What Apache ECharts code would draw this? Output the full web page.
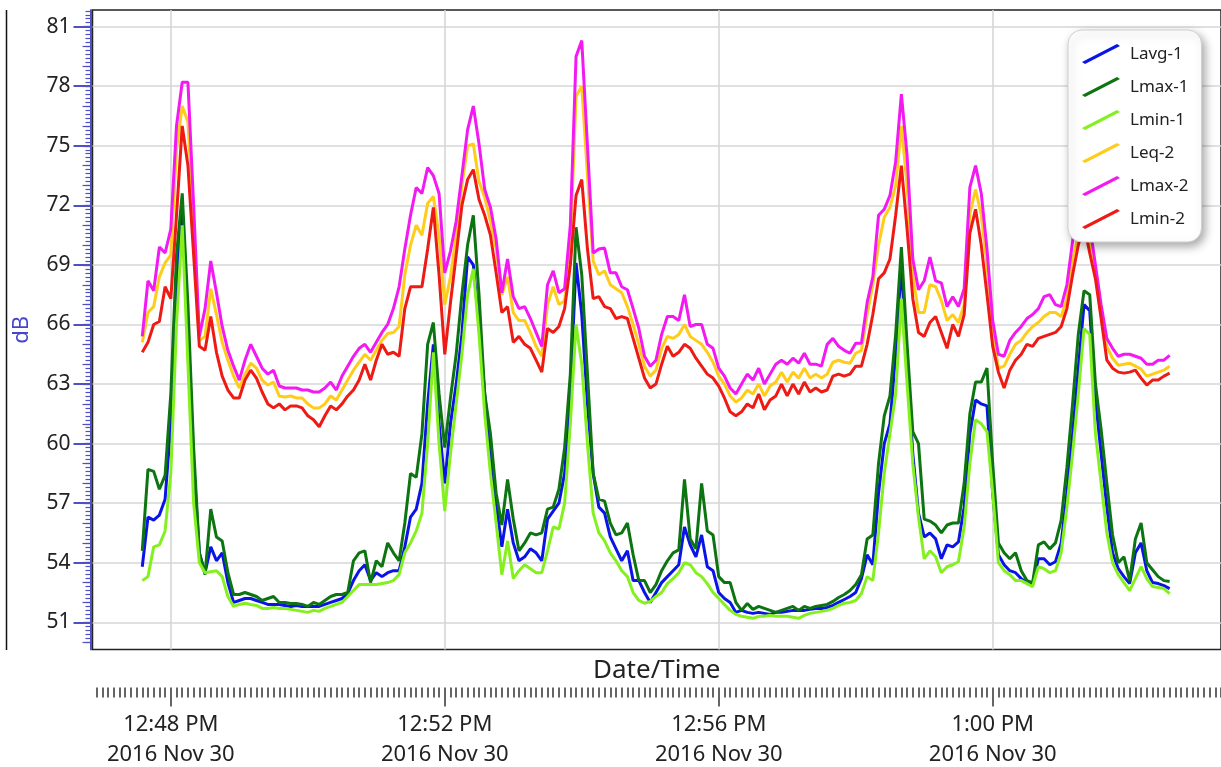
<!DOCTYPE html>
<html>
<head>
<meta charset="utf-8">
<title>Sound level – dB over time</title>
<script src="https://cdn.jsdelivr.net/npm/echarts@6/dist/echarts.min.js"></script>
<style>
  html, body { margin: 0; padding: 0; background: #ffffff; }
  #chart { width: 1221px; height: 767px; }
</style>
</head>
<body>
<div id="chart"></div>
<script>
// ---- series names and colours ----
const seriesNames  = ['Lavg-1', 'Lmax-1', 'Lmin-1', 'Leq-2', 'Lmax-2', 'Lmin-2'];
const seriesColors = ['#0a14e6', '#0c7410', '#84f01e', '#ffcc1a', '#f219f2', '#ee1a14'];

// ---- sampling: one reading every 5 s, first at 12:47:35 PM (seconds after 12:00 PM) ----
const sampleStartSec = 2855;
const sampleStepSec  = 5;

// ---- readings (dB) ----
const lavg1 = [
  53.8, 56.3, 56.15, 56.4, 57.2, 61.0, 68.0, 71.8, 66.0, 59.0,
  54.5, 53.5, 54.8, 54.1, 54.5, 53.0, 52.0, 52.1, 52.2, 52.2,
  52.1, 52.0, 51.9, 51.9, 51.9, 51.85, 51.8, 51.85, 51.8, 51.8,
  51.8, 51.8, 51.9, 52.0, 52.1, 52.2, 52.45, 53.1, 53.6, 53.9,
  53.1, 53.5, 53.3, 53.5, 53.6, 53.6, 54.8, 56.3, 56.7, 58.0,
  62.0, 65.0, 61.0, 58.0, 61.0, 63.0, 65.5, 69.4, 69.0, 66.0,
  62.5, 59.5, 57.0, 54.8, 56.7, 55.0, 54.1, 54.3, 54.7, 54.5,
  54.1, 56.2, 56.6, 57.0, 58.5, 62.5, 69.1, 66.5, 62.0, 58.5,
  56.8, 56.5, 55.3, 54.7, 54.1, 54.6, 53.1, 53.1, 52.5, 52.0,
  52.5, 53.0, 53.3, 53.6, 53.9, 55.8, 54.9, 54.3, 55.4, 53.8,
  53.6, 52.5, 52.2, 52.0, 51.5, 51.6, 51.5, 51.45, 51.5, 51.45,
  51.4, 51.5, 51.5, 51.55, 51.6, 51.6, 51.6, 51.65, 51.7, 51.7,
  51.75, 51.85, 52.0, 52.15, 52.3, 52.5, 53.2, 54.4, 53.9, 57.5,
  60.0, 61.0, 64.5, 69.0, 64.0, 59.5, 56.5, 55.3, 55.5, 55.2,
  54.2, 54.9, 54.8, 55.05, 56.8, 60.5, 62.2, 62.0, 61.9, 57.5,
  54.4, 53.9, 53.6, 53.5, 53.2, 53.0, 52.9, 54.2, 54.2, 53.9,
  54.05, 55.0, 57.5, 60.5, 63.8, 67.0, 66.7, 62.2, 59.5, 56.8,
  54.5, 53.7, 53.3, 52.95, 54.5, 55.0, 53.6, 53.0, 52.95, 52.85, 52.7
];
const lmax1 = [
  54.6, 58.7, 58.6, 57.7, 58.4, 62.5, 69.5, 72.6, 67.0, 59.8,
  54.5, 53.4, 56.7, 55.3, 55.1, 53.5, 52.4, 52.4, 52.5, 52.4,
  52.3, 52.1, 52.2, 52.3, 52.0, 52.0, 51.95, 51.95, 51.9, 51.8,
  52.0, 51.9, 52.1, 52.3, 52.4, 52.4, 52.5, 54.1, 54.5, 54.6,
  53.0, 54.1, 53.8, 55.0, 54.5, 54.1, 56.0, 58.5, 58.3, 60.5,
  65.0, 66.1, 62.5, 59.8, 62.3, 64.5, 67.5, 70.0, 71.5, 67.5,
  62.5, 60.5, 57.5, 55.9, 58.2, 56.2, 54.6, 55.0, 55.5, 55.4,
  55.5, 56.7, 56.8, 57.7, 59.8, 63.5, 70.9, 68.5, 63.5, 58.5,
  57.2, 57.1, 56.0, 55.4, 55.5, 56.0, 54.4, 53.1, 53.1, 52.5,
  52.9, 53.6, 54.1, 54.5, 54.65, 58.2, 55.2, 54.7, 58.0, 55.6,
  55.4, 53.3, 53.0, 53.0, 52.0, 51.6, 51.95, 51.65, 51.8, 51.7,
  51.6, 51.5, 51.6, 51.7, 51.8, 51.6, 51.8, 51.7, 51.8, 51.85,
  51.9, 52.05, 52.25, 52.4, 52.6, 52.9, 53.4, 55.2, 55.4, 59.0,
  61.4, 62.4, 65.5, 69.9, 65.0, 60.6, 60.0, 56.2, 56.1, 55.9,
  55.5, 55.9, 56.0, 56.0, 58.0, 61.5, 63.1, 63.1, 63.8, 59.0,
  55.0, 54.5, 54.2, 54.5, 53.6, 53.1, 53.0, 54.9, 55.05, 54.7,
  55.0, 56.15, 58.8, 62.0, 65.5, 67.7, 67.5, 63.0, 60.7, 58.0,
  55.4, 54.0, 54.3, 53.1, 55.2, 56.0, 54.0, 53.65, 53.3, 53.1, 53.05
];
const lmin1 = [
  53.1, 53.3, 54.8, 54.9, 55.6, 58.5, 66.0, 71.0, 64.0, 57.0,
  54.0, 53.5, 53.55, 53.6, 53.3, 52.3, 51.8, 51.9, 51.96, 51.9,
  51.85, 51.7, 51.7, 51.75, 51.7, 51.7, 51.65, 51.6, 51.55, 51.5,
  51.6, 51.55, 51.7, 51.8, 51.9, 52.0, 52.3, 52.6, 52.9, 52.9,
  52.9, 52.9, 52.95, 53.0, 53.1, 53.4, 54.5, 55.0, 55.6, 56.5,
  60.0, 64.6, 60.0, 56.6, 59.5, 62.0, 64.5, 67.5, 68.8, 65.5,
  61.5, 58.5, 56.0, 53.4, 55.1, 53.2, 53.6, 53.9, 53.7, 53.5,
  53.5, 54.6, 55.8, 55.7, 57.0, 61.0, 66.0, 64.0, 60.0, 56.5,
  55.5, 55.1, 54.5, 54.1, 53.6, 53.3, 52.5, 52.1, 51.96, 52.05,
  52.3, 52.5, 52.95, 53.2, 53.5, 54.0, 53.9, 53.5, 53.3, 52.95,
  52.5, 52.2, 51.9, 51.6, 51.4, 51.3, 51.25, 51.2, 51.3, 51.3,
  51.35, 51.3, 51.3, 51.3, 51.25, 51.2, 51.35, 51.45, 51.5, 51.55,
  51.6, 51.7, 51.85, 51.96, 52.0, 52.1, 52.45, 53.3, 53.1, 55.5,
  58.5, 60.5, 62.5, 67.3, 63.0, 59.0, 56.3, 54.2, 54.6, 54.3,
  53.5, 53.8, 53.9, 54.05, 55.8, 59.0, 61.2, 61.0, 60.6, 57.5,
  54.0, 53.6, 53.4, 53.1, 53.1, 52.95, 52.8, 53.8, 53.7, 53.5,
  53.6, 54.5, 56.8, 59.5, 62.5, 65.8, 65.5, 60.5, 58.0, 55.5,
  54.0, 53.4, 53.0, 52.6, 53.2, 53.8, 53.2, 52.8, 52.75, 52.7, 52.45
];
const leq2 = [
  65.1, 66.6, 66.9, 68.4, 69.1, 69.5, 74.8, 77.0, 76.2, 71.0,
  65.2, 65.4, 67.8, 66.5, 65.1, 64.2, 63.4, 62.8, 63.5, 64.05,
  63.8, 63.2, 62.95, 63.1, 62.4, 62.35, 62.4, 62.3, 62.3, 62.0,
  61.8, 61.8, 62.0, 62.4, 62.2, 62.7, 63.2, 63.7, 64.1, 64.5,
  64.2, 64.7, 65.2, 65.55, 65.6, 65.9, 68.5, 70.0, 71.0, 70.5,
  72.1, 72.45, 70.5, 67.0, 68.4, 70.5, 73.0, 75.0, 75.1, 73.2,
  72.4, 71.2, 69.8, 67.5, 68.4, 66.6, 66.2, 66.2, 65.6, 64.9,
  64.4, 67.0, 67.9, 67.0, 67.2, 70.0, 77.5, 78.0, 73.5, 69.2,
  68.5, 68.7, 68.0, 67.8, 67.6, 66.9, 66.0, 65.0, 63.9, 63.4,
  63.7, 64.8, 65.4, 65.3, 65.5, 66.0, 65.4, 65.2, 65.0, 64.6,
  64.1, 63.4, 63.0, 62.4, 62.1, 62.3, 62.7, 62.5, 63.0, 62.4,
  62.9, 63.1, 63.6, 63.1, 63.6, 63.3, 63.8, 63.3, 63.5, 63.3,
  63.5, 64.1, 64.2, 64.1, 64.05, 64.55, 64.7, 66.5, 68.0, 70.0,
  71.4, 71.9, 73.0, 76.0, 73.0, 68.5, 66.6, 66.6, 68.0, 67.9,
  67.2, 66.2, 66.5, 66.1, 67.0, 71.6, 72.8, 71.5, 69.0, 65.6,
  63.8, 63.9, 64.5, 65.0, 65.2, 65.6, 65.9, 66.1, 66.4, 66.6,
  66.6, 66.4, 67.3, 69.3, 70.5, 71.8, 70.0, 68.6, 66.6, 64.9,
  64.3, 63.95, 64.0, 64.05, 63.9, 63.75, 63.4, 63.5, 63.6, 63.7, 63.9
];
const lmax2 = [
  65.4, 68.2, 67.7, 69.9, 69.6, 70.8, 76.0, 78.2, 78.2, 72.0,
  65.4, 66.8, 69.2, 67.6, 65.9, 64.7, 63.9, 63.2, 64.2, 65.0,
  64.4, 63.8, 63.5, 63.7, 62.9, 62.8, 62.8, 62.8, 62.7, 62.7,
  62.6, 62.6, 62.8, 63.1, 62.7, 63.4, 63.9, 64.4, 64.8, 65.0,
  64.6, 65.1, 65.6, 66.0, 66.8, 67.9, 69.8, 71.5, 72.9, 72.6,
  73.9, 73.5, 72.6, 68.6, 69.7, 71.2, 73.5, 75.8, 77.0, 75.1,
  72.8, 71.9, 70.3, 67.6, 69.3, 67.4, 66.8, 66.9, 66.3, 65.6,
  64.9, 68.0, 68.7, 67.6, 67.8, 71.0, 79.5, 80.3, 75.0, 69.6,
  69.8, 69.85, 68.6, 68.6, 67.9, 67.75, 66.8, 65.8, 64.4, 63.9,
  64.2, 65.5, 66.4, 66.4, 66.2, 67.5, 65.9, 66.0, 66.0, 65.0,
  64.8, 63.8, 63.4, 62.8, 62.5, 63.0, 63.5, 63.2, 63.8, 63.0,
  63.5, 64.0, 64.2, 64.0, 64.3, 64.05, 64.55, 64.0, 64.0, 63.9,
  65.0, 65.3, 64.9, 64.7, 64.55, 65.05, 65.05, 67.1, 68.4, 71.5,
  71.8, 72.5, 74.2, 77.6, 74.5, 69.3, 67.75, 68.2, 69.4, 68.2,
  68.1, 66.9, 67.4, 66.9, 67.8, 72.9, 74.0, 72.6, 69.8, 66.2,
  64.5, 64.4, 65.2, 65.6, 65.9, 66.3, 66.5, 66.8, 67.4, 67.5,
  67.0, 66.9, 68.0, 70.2, 72.5, 73.0, 71.0, 69.0, 67.0, 65.3,
  64.8, 64.4, 64.5, 64.5, 64.4, 64.3, 64.0, 64.0, 64.2, 64.2, 64.45
];
const lmin2 = [
  64.6, 65.1, 66.0, 66.15, 67.9, 67.3, 71.5, 76.0, 74.0, 69.5,
  64.9, 64.7, 66.4, 64.6, 63.4, 62.7, 62.3, 62.3, 63.2, 63.7,
  63.3, 62.6, 62.0, 61.8, 62.0, 61.7, 61.9, 61.9, 61.8, 61.4,
  61.2, 60.85, 61.4, 61.9, 61.7, 62.0, 62.4, 62.7, 63.2, 64.0,
  63.2, 64.2, 65.0, 64.5, 64.6, 64.4, 66.8, 67.9, 67.9, 67.9,
  69.8, 71.9, 68.5, 64.5, 67.1, 69.5, 72.0, 73.3, 73.8, 72.3,
  71.5, 70.5, 68.6, 66.6, 66.9, 65.1, 65.4, 65.0, 64.8, 64.2,
  63.6, 65.8, 65.6, 65.9, 66.8, 69.0, 72.5, 73.3, 69.8, 67.3,
  67.4, 66.9, 66.8, 66.3, 66.4, 66.3, 65.3, 64.3, 63.3, 62.8,
  63.0, 64.0, 64.9, 64.4, 64.6, 65.0, 64.8, 64.3, 63.9, 63.5,
  63.3, 62.9, 62.3, 61.6, 61.4, 61.6, 62.0, 61.8, 62.5, 61.7,
  62.2, 62.4, 63.0, 62.4, 63.0, 62.5, 63.1, 62.6, 62.8, 62.6,
  62.7, 63.4, 63.5, 63.4, 63.5, 63.9, 63.9, 65.0, 66.5, 68.3,
  68.6, 69.3, 71.5, 74.0, 70.8, 67.3, 65.6, 65.4, 66.1, 66.4,
  65.6, 64.8, 66.0, 65.4, 66.5, 70.6, 71.8, 70.0, 67.5, 64.9,
  63.6, 62.8, 63.7, 64.2, 64.5, 65.0, 64.9, 65.3, 65.4, 65.5,
  65.6, 65.9, 66.8, 68.5, 70.0, 71.0, 69.6, 68.3, 66.3, 64.2,
  63.8, 63.6, 63.55, 63.6, 63.7, 63.3, 62.95, 63.2, 63.2, 63.4, 63.55
];

// ---- axis ticks ----
const yTickValues  = [51, 54, 57, 60, 63, 66, 69, 72, 75, 78, 81];
const xTickSecs    = [2880, 3120, 3360, 3600];
const xTickLabels  = ['12:48 PM', '12:52 PM', '12:56 PM', '1:00 PM'];
const xTickDate    = '2016 Nov 30';

// ---- chart ----
const FONT = "'Noto Sans', 'DejaVu Sans', sans-serif";
const AXIS_BLUE = '#5050c4';
const Y_MIN = 49.63, Y_MAX = 81.84;
const X_MIN = 2811.4, X_MAX = 3800;

const sampleSecs = lavg1.map((_, i) => sampleStartSec + i * sampleStepSec);
const pairs = arr => arr.map((v, i) => [sampleSecs[i], v]);
const seriesData = [lavg1, lmax1, lmin1, leq2, lmax2, lmin2];

// fine ruler marks along both axes
const yRulerMarks = [];
for (let k = 250; k <= 409; k++) yRulerMarks.push(k / 5);
const yRulerMidMarks = [];
for (let v = 50; v <= 81; v++) yRulerMidMarks.push(v);
const xRulerMarks = [];
for (let s = 2815; s <= X_MAX; s += 5) xRulerMarks.push(s);

const chart = echarts.init(document.getElementById('chart'), null, { renderer: 'canvas' });

chart.setOption({
  animation: false,
  backgroundColor: '#ffffff',
  textStyle: { fontFamily: FONT },
  grid: {
    left: 92.5, top: 10, right: 0, bottom: 117.5,
    show: true, borderColor: '#222', borderWidth: 1.5, backgroundColor: '#ffffff',
    containLabel: false,
    outerBoundsMode: 'none'
  },
  legend: {
    data: seriesNames,
    orient: 'vertical',
    left: 1068, top: 30,
    padding: [14, 13, 13, 14],
    itemGap: 13,
    itemWidth: 38, itemHeight: 20,
    icon: 'path://M0,18 L35,0 L38,2 L3,20 Z',
    selectedMode: false,
    backgroundColor: '#ffffff',
    borderColor: '#d0d0d0', borderWidth: 1, borderRadius: 14,
    shadowBlur: 10, shadowColor: 'rgba(0,0,0,0.35)', shadowOffsetX: 3, shadowOffsetY: 4,
    textStyle: { fontSize: 17, color: '#222', fontFamily: FONT, padding: [0, 0, 0, 5] }
  },
  xAxis: [
    {
      type: 'value', min: X_MIN, max: X_MAX, position: 'bottom', offset: 38,
      axisLine: { show: false, onZero: false },
      axisTick: { show: true, customValues: xTickSecs, length: 19, lineStyle: { color: '#333', width: 1.5 } },
      axisLabel: {
        customValues: xTickSecs, margin: 22, fontSize: 22, color: '#222', lineHeight: 30, fontFamily: FONT,
        formatter: v => xTickLabels[xTickSecs.indexOf(v)] + '\n' + xTickDate
      },
      splitLine: { show: true, lineStyle: { color: '#d6d6d6', width: 1.6 } }
    },
    {
      type: 'value', min: X_MIN, max: X_MAX, position: 'bottom', offset: 38,
      axisLine: { show: false, onZero: false },
      axisTick: { show: true, customValues: xRulerMarks, length: 10, lineStyle: { color: '#333', width: 1.5 } },
      axisLabel: { show: false },
      splitLine: { show: false }
    },
    {
      type: 'value', min: X_MIN, max: X_MAX, position: 'bottom', offset: 0,
      name: 'Date/Time', nameLocation: 'middle', nameGap: 8,
      nameTextStyle: { fontSize: 26, color: '#222', fontFamily: FONT },
      axisLine: { show: false, onZero: false },
      axisTick: { show: false },
      axisLabel: { show: false },
      splitLine: { show: false }
    }
  ],
  yAxis: [
    {
      type: 'value', min: Y_MIN, max: Y_MAX, position: 'left', offset: 2,
      name: 'dB', nameLocation: 'middle', nameGap: 58, nameRotate: 90,
      nameTextStyle: { fontSize: 22, color: '#4646cc', fontFamily: FONT },
      axisLine: { show: true, onZero: false, lineStyle: { color: AXIS_BLUE, width: 2 } },
      axisTick: { show: true, customValues: yTickValues, length: 17, lineStyle: { color: AXIS_BLUE, width: 2 } },
      axisLabel: { customValues: yTickValues, margin: 20, fontSize: 21, color: '#222', fontFamily: FONT },
      splitLine: { show: true, lineStyle: { color: '#d6d6d6', width: 1.6 } }
    },
    {
      type: 'value', min: Y_MIN, max: Y_MAX, position: 'left', offset: 2,
      axisLine: { show: false, onZero: false },
      axisTick: { show: true, customValues: yRulerMarks, length: 5, lineStyle: { color: AXIS_BLUE, width: 1.2 } },
      axisLabel: { show: false },
      splitLine: { show: false }
    },
    {
      type: 'value', min: Y_MIN, max: Y_MAX, position: 'left', offset: 2,
      axisLine: { show: false, onZero: false },
      axisTick: { show: true, customValues: yRulerMidMarks, length: 8, lineStyle: { color: AXIS_BLUE, width: 1.2 } },
      axisLabel: { show: false },
      splitLine: { show: false }
    }
  ],
  graphic: [
    { type: 'line', shape: { x1: 6.5, y1: 10, x2: 6.5, y2: 650 }, style: { stroke: '#111', lineWidth: 1.5 }, silent: true }
  ],
  series: seriesNames.map((name, k) => ({
    name,
    type: 'line',
    xAxisIndex: 0, yAxisIndex: 0,
    data: pairs(seriesData[k]),
    showSymbol: false, symbol: 'none',
    clip: true,
    lineStyle: { color: seriesColors[k], width: 3 },
    itemStyle: { color: seriesColors[k] },
    emphasis: { disabled: true },
    z: 2 + k * 0.01
  }))
});
</script>
</body>
</html>
